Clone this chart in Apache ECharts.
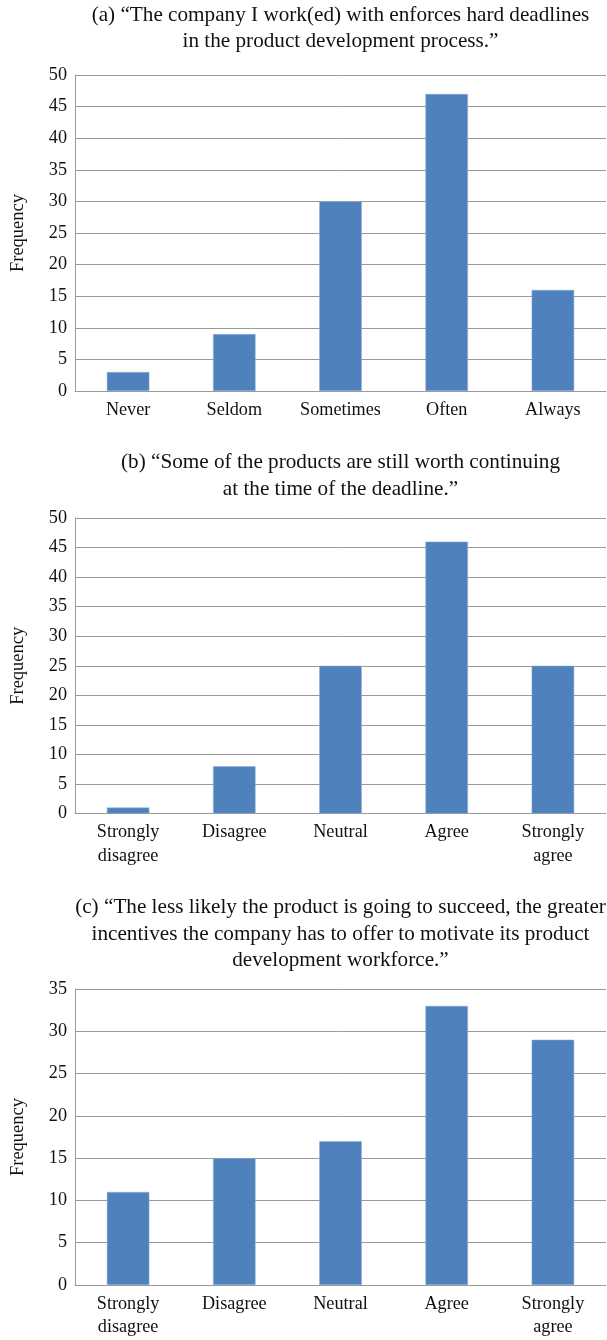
<!DOCTYPE html>
<html>
<head>
<meta charset="utf-8">
<script src="https://cdn.jsdelivr.net/npm/echarts@6/dist/echarts.min.js"></script>
<style>
html,body{margin:0;padding:0;background:#fff;}
#chart{width:607px;height:1340px;}
</style>
</head>
<body>
<div id="chart"></div>
<script>
// ---- data ----
const titleA = "(a) \u201cThe company I work(ed) with enforces hard deadlines\nin the product development process.\u201d";
const titleB = "(b) \u201cSome of the products are still worth continuing\nat the time of the deadline.\u201d";
const titleC = "(c) \u201cThe less likely the product is going to succeed, the greater\nincentives the company has to offer to motivate its product\ndevelopment workforce.\u201d";

const categoriesA = ["Never", "Seldom", "Sometimes", "Often", "Always"];
const valuesA = [3, 9, 30, 47, 16];

const categoriesB = ["Strongly\ndisagree", "Disagree", "Neutral", "Agree", "Strongly\nagree"];
const valuesB = [1, 8, 25, 46, 25];

const categoriesC = ["Strongly\ndisagree", "Disagree", "Neutral", "Agree", "Strongly\nagree"];
const valuesC = [11, 15, 17, 33, 29];

const yMaxAB = 50, yMaxC = 35, yStep = 5;
const yName = "Frequency";

// ---- layout ----
const FONT = "'Liberation Serif', 'Times New Roman', serif";
const BAR = '#4F81BD';
const GRIDC = '#9a9a9a';
const L = 75, W = 531;
const grids = [
  {top: 75, height: 316},
  {top: 518, height: 295.5},
  {top: 989, height: 296}
];
const cats = [categoriesA, categoriesB, categoriesC];
const vals = [valuesA, valuesB, valuesC];
const maxes = [yMaxAB, yMaxAB, yMaxC];
const titles = [
  {text: titleA, y: 28.5},
  {text: titleB, y: 476},
  {text: titleC, y: 934}
];

const chart = echarts.init(document.getElementById('chart'), null, {renderer: 'canvas'});

const option = {
  backgroundColor: '#fff',
  animation: false,
  grid: grids.map(g => ({left: L, width: W, top: g.top, height: g.height, containLabel: false})),
  xAxis: cats.map((c, i) => ({
    type: 'category', gridIndex: i, data: c,
    axisLine: {show: true, lineStyle: {color: GRIDC, width: 1}},
    axisTick: {show: false},
    axisLabel: {color: '#111', fontFamily: FONT, fontSize: 18.2, lineHeight: 23.5, margin: 7, interval: 0}
  })),
  yAxis: maxes.map((m, i) => ({
    type: 'value', gridIndex: i, min: 0, max: m, interval: yStep,
    axisLine: {show: true, lineStyle: {color: GRIDC, width: 1}},
    axisTick: {show: false},
    splitLine: {show: true, lineStyle: {color: GRIDC, width: 1}},
    axisLabel: {color: '#111', fontFamily: FONT, fontSize: 18.2, margin: 8}
  })),
  series: vals.map((v, i) => ({
    type: 'bar', xAxisIndex: i, yAxisIndex: i, data: v,
    barWidth: '40%',
    itemStyle: {color: BAR, borderColor: '#8fb0d8', borderWidth: 0.5}
  })),
  graphic: [
    ...titles.map(t => ({
      type: 'text',
      x: L + W / 2, y: t.y,
      style: {
        text: t.text, fill: '#111', font: '21.2px ' + FONT,
        textAlign: 'center', textVerticalAlign: 'middle', lineHeight: 26.2
      }
    })),
    ...grids.map(g => ({
      type: 'text',
      x: 18, y: g.top + g.height / 2,
      rotation: Math.PI / 2,
      style: {
        text: yName, fill: '#111', font: '18.5px ' + FONT,
        textAlign: 'center', textVerticalAlign: 'middle'
      }
    }))
  ]
};
chart.setOption(option);
</script>
</body>
</html>
